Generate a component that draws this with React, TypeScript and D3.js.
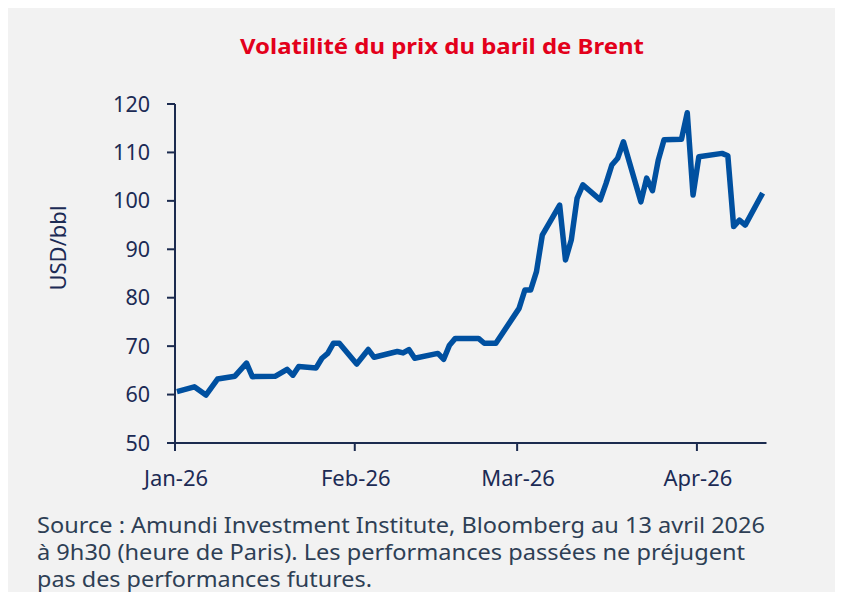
import React from "react";
import * as d3 from "d3";

const TITLE = "Volatilité du prix du baril de Brent";
const Y_LABEL = "USD/bbl";
const SOURCE_LINES = [
  "Source : Amundi Investment Institute, Bloomberg au 13 avril 2026",
  "à 9h30 (heure de Paris). Les performances passées ne préjugent",
  "pas des performances futures.",
];

const dates = [
  "2026-01-02", "2026-01-05", "2026-01-07", "2026-01-09", "2026-01-12", "2026-01-14",
  "2026-01-15", "2026-01-19", "2026-01-21", "2026-01-22", "2026-01-23", "2026-01-26",
  "2026-01-27", "2026-01-28", "2026-01-29", "2026-01-30", "2026-02-02", "2026-02-04",
  "2026-02-05", "2026-02-09", "2026-02-10", "2026-02-11", "2026-02-12", "2026-02-16",
  "2026-02-17", "2026-02-18", "2026-02-19", "2026-02-23", "2026-02-24", "2026-02-26",
  "2026-03-02", "2026-03-03", "2026-03-04", "2026-03-05", "2026-03-06", "2026-03-09",
  "2026-03-10", "2026-03-11", "2026-03-12", "2026-03-13", "2026-03-16", "2026-03-17",
  "2026-03-18", "2026-03-19", "2026-03-20", "2026-03-23", "2026-03-24", "2026-03-25",
  "2026-03-26", "2026-03-27", "2026-03-30", "2026-03-31", "2026-04-01", "2026-04-02",
  "2026-04-06", "2026-04-07", "2026-04-08", "2026-04-09", "2026-04-10", "2026-04-13",
];

const brent = [
  60.6, 61.6, 59.9, 63.2, 63.8, 66.5,
  63.7, 63.8, 65.2, 64.0, 65.8, 65.5,
  67.5, 68.5, 70.6, 70.6, 66.3, 69.3,
  67.7, 68.9, 68.6, 69.3, 67.5, 68.5,
  67.3, 70.2, 71.6, 71.6, 70.6, 70.6,
  77.8, 81.6, 81.6, 85.4, 92.9, 99.1,
  87.8, 91.9, 100.5, 103.3, 100.2, 103.6,
  107.4, 108.8, 112.2, 99.8, 104.7, 102.1,
  108.4, 112.6, 112.7, 118.2, 101.2, 109.1,
  109.8, 109.3, 94.7, 96.0, 95.0, 101.6,
];

const yTicks = [50, 60, 70, 80, 90, 100, 110, 120];
const xTickDates = ["2026-01-01", "2026-02-01", "2026-03-01", "2026-04-01"];
const X_START = "2026-01-01";
const X_END = "2026-04-13";

export default function App() {
  const W = 827;
  const H = 584;
  const ox = 8, oy = 8;
  const left = 175 - ox, right = 766.5 - ox;
  const top = 104 - oy, bottom = 443 - oy;

  const parse = d3.timeParse("%Y-%m-%d");
  const fmt = d3.timeFormat("%b-%y");

  const x = d3.scaleTime()
    .domain([parse(X_START)!, parse(X_END)!])
    .range([left, right]);
  const y = d3.scaleLinear().domain([50, 120]).range([bottom, top]);

  const pts = dates.map((d, i) => ({ date: parse(d)!, v: brent[i] }));
  const line = d3.line<{ date: Date; v: number }>()
    .x((p) => x(d3.timeHour.offset(p.date, -16)))
    .y((p) => y(p.v));

  const axisColor = "#1c2b4f";
  const labelColor = "#1c2b55";
  const font = "'Noto Sans', 'Open Sans', sans-serif";
  const sourceLengths = [728, 708, 335];

  return (
    <svg width={W} height={H} style={{ display: "block" }} fontFamily={font}>
      <rect x={0} y={0} width={W} height={H} fill="#f2f2f2" />
      <text
        x={442 - ox}
        y={54 - oy}
        textAnchor="middle"
        fill="#e3001b"
        fontSize={22}
        fontWeight="bold"
        textLength={404}
        lengthAdjust="spacingAndGlyphs"
      >
        {TITLE}
      </text>

      {/* Y axis */}
      <line x1={left} x2={left} y1={top} y2={bottom} stroke={axisColor} strokeWidth={2} />
      {yTicks.map((t) => (
        <g key={t}>
          <line x1={left - 8} x2={left} y1={y(t)} y2={y(t)} stroke={axisColor} strokeWidth={2} />
          <text x={150 - ox} y={y(t)} dy="0.35em" textAnchor="end" fill={labelColor} fontSize={21.5}>
            {t}
          </text>
        </g>
      ))}
      <text
        transform={`translate(${58 - ox},${248 - oy}) rotate(-90)`}
        textAnchor="middle"
        dy="0.35em"
        fill={labelColor}
        fontSize={22}
      >
        {Y_LABEL}
      </text>

      {/* X axis */}
      <line x1={left} x2={right} y1={bottom} y2={bottom} stroke={axisColor} strokeWidth={2} />
      {xTickDates.map((d) => {
        const dt = parse(d)!;
        const px = x(dt);
        return (
          <g key={d}>
            <line x1={px} x2={px} y1={bottom} y2={bottom + 8} stroke={axisColor} strokeWidth={2} />
            <text x={px + 1} y={486 - oy} textAnchor="middle" fill={labelColor} fontSize={22}>
              {fmt(dt)}
            </text>
          </g>
        );
      })}

      <path
        d={line(pts) || ""}
        fill="none"
        stroke="#0050a0"
        strokeWidth={5.5}
        strokeLinejoin="round"
        strokeLinecap="butt"
      />

      {SOURCE_LINES.map((s, i) => (
        <text
          key={i}
          x={37 - ox}
          y={533 - oy + i * 27}
          fill="#2e3f55"
          fontSize={22.5}
          textLength={sourceLengths[i]}
          lengthAdjust="spacingAndGlyphs"
        >
          {s}
        </text>
      ))}
    </svg>
  );
}
